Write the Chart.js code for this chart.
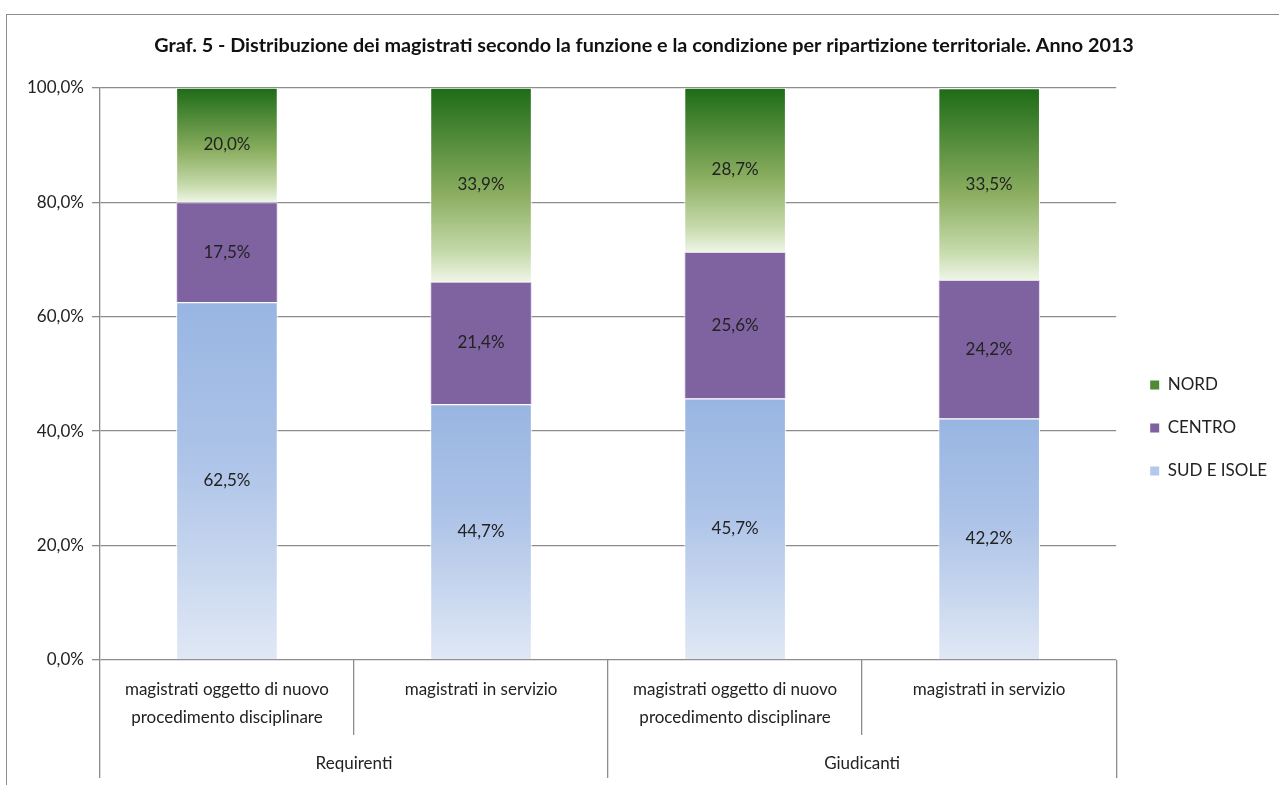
<!DOCTYPE html>
<html lang="it">
<head>
<meta charset="utf-8">
<title>Graf. 5</title>
<script src="https://cdn.jsdelivr.net/npm/chart.js@4.4.1/dist/chart.umd.min.js"></script>
<style>
  html, body { margin: 0; padding: 0; background: #fff; overflow: hidden; }
  #wrap { position: relative; width: 1279px; height: 785px; }
  #frame { position: absolute; left: 6px; top: 14px; width: 1290px; height: 800px; border: 1.5px solid #8c8c8c; box-sizing: border-box; pointer-events: none; }
  canvas { position: absolute; left: 0; top: 0; }
</style>
</head>
<body>
<div id="wrap">
  <canvas id="chart" width="1279" height="785"></canvas>
  <div id="frame"></div>
</div>
<script>
// data
const categories = [
    ["magistrati oggetto di nuovo", "procedimento disciplinare"],
    "magistrati in servizio",
    ["magistrati oggetto di nuovo", "procedimento disciplinare"],
    "magistrati in servizio"
];
const groups = ["Requirenti", "Giudicanti"];
const sudIsole = [62.5, 44.7, 45.7, 42.2];
const centro = [17.5, 21.4, 25.6, 24.2];
const nord = [20.0, 33.9, 28.7, 33.5];
const yTicks = [0, 20, 40, 60, 80, 100];

const FONT = "Lato";
const GRID = "#8c8c8c";
const legendColors = { "NORD": "#4f8a36", "CENTRO": "#7f63a0", "SUD E ISOLE": "#b4c8ea" };

const fmt = v => v.toFixed(1).replace(".", ",") + "%";

// vertical gradient per segment, computed from the y scale
function segGradient(stops, flat) {
    return ctx => {
        const chart = ctx.chart;
        if (ctx.type !== "data" || !chart.chartArea) return flat;
        const y = chart.scales.y;
        let base = 0;
        for (let i = 0; i < ctx.datasetIndex; i++) base += chart.data.datasets[i].data[ctx.dataIndex];
        const top = y.getPixelForValue(base + ctx.raw);
        const bottom = y.getPixelForValue(base);
        const g = chart.ctx.createLinearGradient(0, top, 0, bottom);
        stops.forEach(s => g.addColorStop(s[0], s[1]));
        return g;
    };
}

// value labels in the middle of each segment
const segmentLabels = {
    id: "segmentLabels",
    afterDatasetsDraw(chart) {
        const c = chart.ctx;
        c.save();
        c.font = "17px " + FONT;
        c.fillStyle = "#222";
        c.textAlign = "center";
        c.textBaseline = "middle";
        chart.data.datasets.forEach((ds, i) => {
            chart.getDatasetMeta(i).data.forEach((el, j) => {
                c.fillText(fmt(ds.data[j]), el.x, (el.y + el.base) / 2);
            });
        });
        c.restore();
    }
};

// move the legend a bit, like the original
const legendShift = {
    id: "legendShift",
    afterLayout(chart) {
        const lg = chart.legend;
        lg.top += 39; lg.bottom += 39;
        lg.left += 8; lg.right += 8;
    }
};

new Chart(document.getElementById("chart"), {
    type: "bar",
    data: {
        labels: categories,
        datasets: [
            {
                label: "SUD E ISOLE",
                data: sudIsole,
                xAxisID: "x",
                backgroundColor: segGradient([[0, "#98b5e2"], [0.45, "#aec4e8"], [1, "#e0e8f5"]], "#b4c8ea"),
                borderColor: "#ffffff",
                borderWidth: 1
            },
            {
                label: "CENTRO",
                data: centro,
                xAxisID: "x",
                backgroundColor: "#7f63a0",
                borderColor: "#e2dbec",
                borderWidth: 1
            },
            {
                label: "NORD",
                data: nord,
                xAxisID: "x",
                backgroundColor: segGradient([[0, "#1d6b17"], [0.55, "#8bae60"], [0.85, "#c6daab"], [1, "#eef5e6"]], "#4f8a36"),
                borderColor: "#ffffff",
                borderWidth: 1
            }
        ]
    },
    options: {
        responsive: false,
        animation: false,
        categoryPercentage: 1,
        barPercentage: 0.4,
        layout: { padding: { left: 19, right: 10, top: 0, bottom: 7 } },
        plugins: {
            title: {
                display: true,
                text: "Graf. 5 - Distribuzione dei magistrati secondo la funzione e la condizione per ripartizione territoriale. Anno 2013",
                color: "#111",
                font: { family: FONT, size: 19.8, weight: "bold" },
                padding: { top: 34, bottom: 30 }
            },
            legend: {
                position: "right",
                reverse: true,
                labels: {
                    font: { family: FONT, size: 17 },
                    color: "#222",
                    boxWidth: 9,
                    boxHeight: 9,
                    padding: 26,
                    generateLabels: chart => Chart.defaults.plugins.legend.labels.generateLabels(chart).map(item => {
                        item.fillStyle = legendColors[item.text];
                        item.strokeStyle = legendColors[item.text];
                        item.lineWidth = 0;
                        return item;
                    })
                }
            },
            tooltip: { enabled: false }
        },
        scales: {
            x: {
                type: "category",
                position: "bottom",
                stacked: true,
                offset: true,
                grid: { offset: true, drawOnChartArea: false, tickLength: 75, color: GRID, lineWidth: 1.3 },
                border: { display: false },
                afterFit: scale => { scale.height = 75; },
                ticks: {
                    font: { family: FONT, size: 17, lineHeight: 1.65 },
                    color: "#222",
                    padding: -60,
                    maxRotation: 0,
                    autoSkip: false
                }
            },
            x2: {
                type: "category",
                position: "bottom",
                labels: groups,
                offset: true,
                grid: { offset: true, drawOnChartArea: false, tickLength: 43, color: GRID, lineWidth: 1.3 },
                border: { display: false },
                afterFit: scale => { scale.height = 43; },
                ticks: {
                    font: { family: FONT, size: 17 },
                    color: "#222",
                    padding: -25,
                    maxRotation: 0
                }
            },
            y: {
                stacked: true,
                min: 0,
                max: 100,
                afterBuildTicks: axis => { axis.ticks = yTicks.map(v => ({ value: v })); },
                grid: { color: GRID, lineWidth: 1.3, tickLength: 8 },
                border: { color: GRID, width: 1.3 },
                ticks: {
                    font: { family: FONT, size: 17 },
                    color: "#222",
                    padding: 8,
                    callback: v => fmt(v)
                }
            }
        }
    },
    plugins: [segmentLabels, legendShift]
});
</script>
</body>
</html>
